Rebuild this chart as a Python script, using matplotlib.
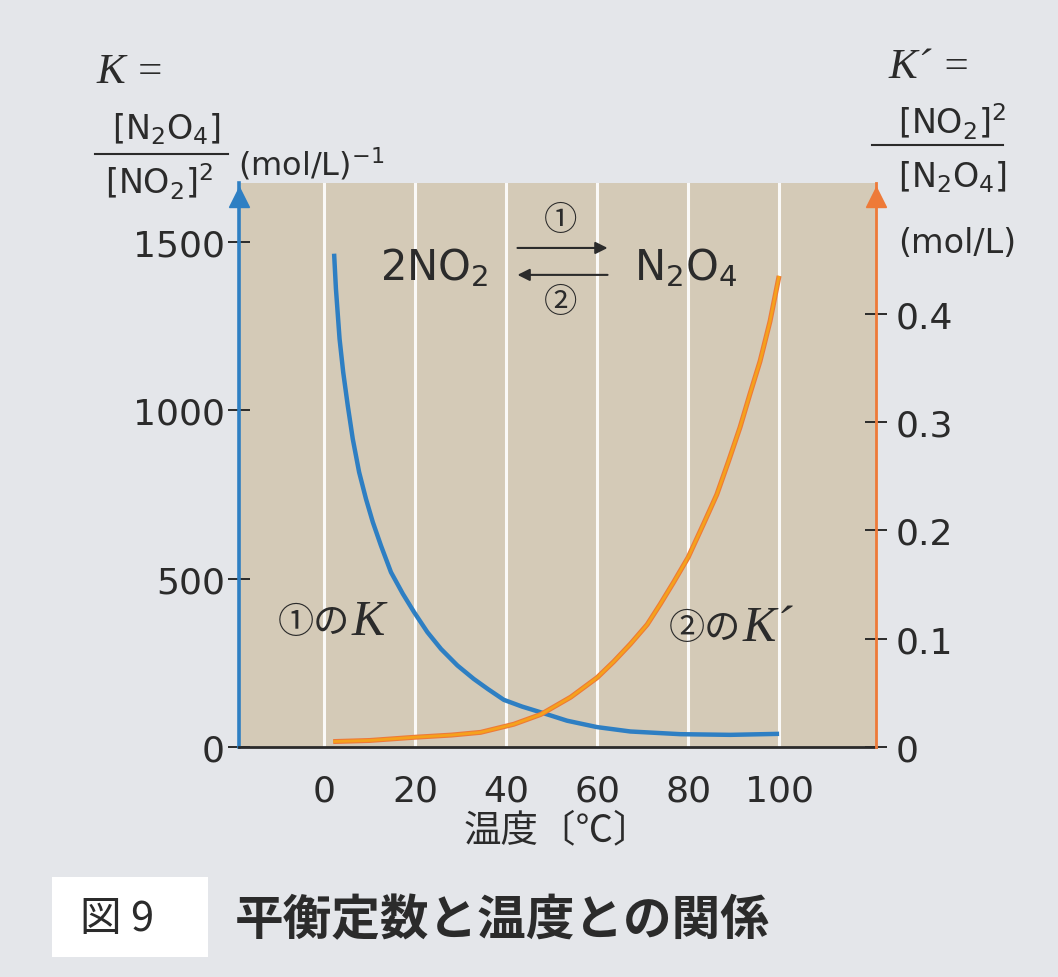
import matplotlib.pyplot as plt
from matplotlib.patches import Rectangle
from matplotlib.lines import Line2D

plt.rcParams['font.family'] = ['DejaVu Sans', 'Noto Sans CJK JP']
JP = ['Noto Sans CJK JP', 'DejaVu Sans']
SERIF = 'Liberation Serif'

# ========== values ==========
# K of reaction 1 (left axis, (mol/L)^-1)
temp_k = [2.2, 2.6, 3.4, 4.2, 5.2, 6.3, 7.7, 9.2, 10.7, 12.5, 14.7, 17.3, 19.8, 22.7,
          25.7, 29.3, 32.9, 36.0, 39.5, 43.5, 47.6, 53.4, 60.0, 67.3, 78.3, 89.3, 100]
k_vals = [1465, 1361, 1212, 1113, 1014, 915, 816, 737, 668, 598, 519, 455, 400, 341,
          291, 242, 202, 172, 140, 120, 103, 78, 59, 46, 38, 36, 39]

# K' of reaction 2 (right axis, mol/L)
temp_kp = [2, 10, 20, 28, 34.4, 41.7, 47.6, 54.2, 60.0, 63.7, 67.3, 71.0, 73.9, 76.8,
           80.0, 83.4, 86.3, 88.9, 91.4, 93.6, 95.8, 98.0, 100]
kp_vals = [0.005, 0.006, 0.009, 0.011, 0.0135, 0.021, 0.030, 0.046, 0.064, 0.079, 0.095,
           0.113, 0.132, 0.152, 0.175, 0.206, 0.233, 0.264, 0.295, 0.326, 0.356, 0.393, 0.435]

x_ticks = [0, 20, 40, 60, 80, 100]
k_ticks = [0, 500, 1000, 1500]
kp_ticks = [0, 0.1, 0.2, 0.3, 0.4]
kp_ticklabels = ['0', '0.1', '0.2', '0.3', '0.4']

# ========== colours ==========
bg = '#e4e6ea'
panel = '#d4cab7'
blue = '#2e7fc3'
orange = '#f5a21c'
orange_edge = '#ee7a38'
ink = '#2b2b2b'

W, H = 1058, 978
def f(px, py):
    # pixel position -> figure fraction
    return px / W, 1 - py / H

fig = plt.figure(figsize=(W / 100, H / 100), dpi=100, facecolor=bg)
ax = fig.add_axes([0.2259, 0.2352, 0.6021, 0.5767])
ax.set_facecolor(panel)
ax.set_xlim(-18.7, 121.3)
ax.set_ylim(0, 1675)
ax2 = ax.twinx()
ax2.set_ylim(0, 0.5208)

# grid
ax.set_xticks(x_ticks)
ax.grid(axis='x', color='white', lw=2.2, alpha=0.9)
ax.set_axisbelow(True)

# curves
ax.plot(temp_k, k_vals, color=blue, lw=3.2, solid_capstyle='butt', solid_joinstyle='round', zorder=3)
ax2.plot(temp_kp, kp_vals, color=orange_edge, lw=3.6, solid_capstyle='butt', solid_joinstyle='round')
ax2.plot(temp_kp, kp_vals, color=orange, lw=2.0, solid_capstyle='butt', solid_joinstyle='round')

# spines
for s in ['top', 'right']:
    ax.spines[s].set_visible(False)
ax.spines['left'].set_color(blue)
ax.spines['left'].set_linewidth(2.6)
ax.spines['bottom'].set_color(ink)
ax.spines['bottom'].set_linewidth(2)
for s in ['top', 'left', 'bottom']:
    ax2.spines[s].set_visible(False)
ax2.spines['right'].set_color(orange_edge)
ax2.spines['right'].set_linewidth(2)

# ticks
ax.set_yticks(k_ticks)
ax.tick_params(axis='y', direction='inout', length=16, width=1.4, color=ink,
               labelsize=26, labelcolor=ink, pad=2)
ax.tick_params(axis='x', length=0, labelsize=26, labelcolor=ink, pad=19)
ax2.set_yticks(kp_ticks)
ax2.set_yticklabels(kp_ticklabels)
ax2.tick_params(axis='y', direction='inout', length=16, width=1.4, color=ink,
                labelsize=26, labelcolor=ink, pad=6)

# arrow heads on the vertical axes
ax.plot([0], [0.975], transform=ax.transAxes, marker='^', ms=15, color=blue, clip_on=False, zorder=5)
ax.plot([1], [0.975], transform=ax.transAxes, marker='^', ms=15, color=orange_edge, clip_on=False, zorder=5)

ax.set_xlabel('温度〔℃〕', fontfamily=JP, fontsize=27, color=ink, labelpad=2)

# reaction scheme
ax.text(24.1, 1426, '2NO$_2$', fontsize=30, color=ink, ha='center', va='center')
ax.text(79.4, 1426, 'N$_2$O$_4$', fontsize=30, color=ink, ha='center', va='center')
ax.annotate('', xy=(62.3, 1482), xytext=(42.5, 1482),
            arrowprops=dict(arrowstyle='-|>', color=ink, lw=1.5, mutation_scale=18, shrinkA=0, shrinkB=0))
ax.annotate('', xy=(42.5, 1402), xytext=(62.3, 1402),
            arrowprops=dict(arrowstyle='-|>', color=ink, lw=1.5, mutation_scale=18, shrinkA=0, shrinkB=0))
ax.text(52, 1566, '①', fontfamily=JP, fontsize=24, color=ink, ha='center', va='center')
ax.text(52, 1322, '②', fontfamily=JP, fontsize=24, color=ink, ha='center', va='center')

# curve labels
ax.text(-10.1, 371, '①の', fontfamily=JP, fontsize=26, color=ink, ha='left', va='center')
ax.annotate('K', xy=(-10.1, 371), xytext=(53, 0), textcoords='offset points',
            fontfamily=SERIF, style='italic', fontsize=36, color=ink, ha='left', va='center')
ax.text(75.7, 354, '②の', fontfamily=JP, fontsize=26, color=ink, ha='left', va='center')
ax.annotate('K´', xy=(75.7, 354), xytext=(53, 0), textcoords='offset points',
            fontfamily=SERIF, style='italic', fontsize=36, color=ink, ha='left', va='center')

# left axis heading
fig.text(*f(96, 83), 'K =', fontfamily=SERIF, style='italic', fontsize=31, color=ink, va='baseline')
fig.text(*f(166, 139), '[N$_2$O$_4$]', fontsize=24, color=ink, ha='center', va='baseline')
fig.add_artist(Line2D([95 / W, 228 / W], [1 - 155 / H] * 2, color=ink, lw=1.5))
fig.text(*f(105, 194), '[NO$_2$]$^2$', fontsize=24, color=ink, ha='left', va='baseline')
fig.text(*f(238, 176), '(mol/L)$^{-1}$', fontsize=23, color=ink, ha='left', va='baseline')

# right axis heading
fig.text(*f(888, 78), 'K´ =', fontfamily=SERIF, style='italic', fontsize=31, color=ink, va='baseline')
fig.text(*f(898, 134), '[NO$_2$]$^2$', fontsize=24, color=ink, ha='left', va='baseline')
fig.add_artist(Line2D([872 / W, 1003 / W], [1 - 146 / H] * 2, color=ink, lw=1.5))
fig.text(*f(898, 187), '[N$_2$O$_4$]', fontsize=24, color=ink, ha='left', va='baseline')
fig.text(*f(898, 253), '(mol/L)', fontsize=24, color=ink, ha='left', va='baseline')

# caption
fig.add_artist(Rectangle(f(52, 958), 156 / W, 80 / H, transform=fig.transFigure,
                         facecolor='white', edgecolor='none'))
fig.text(*f(117, 920), '図 9', fontfamily=JP, fontsize=30, color=ink, ha='center', va='center')
fig.text(*f(235, 921), '平衡定数と温度との関係', fontfamily=JP, fontweight='bold',
         fontsize=35, color=ink, ha='left', va='center')

fig.savefig('out.png', dpi=100, facecolor=bg)
